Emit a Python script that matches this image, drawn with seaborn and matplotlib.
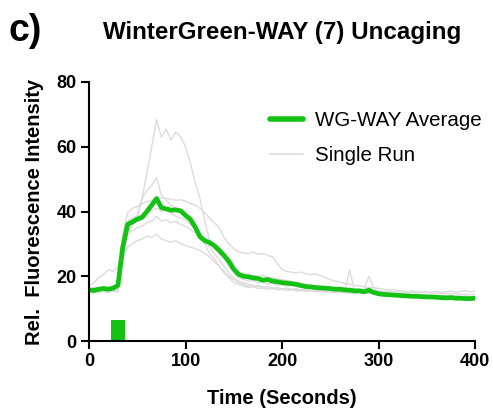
import numpy as np
import pandas as pd
import matplotlib
matplotlib.use("Agg")
import matplotlib.pyplot as plt
import seaborn as sns
from matplotlib.lines import Line2D

# ---- data ----
time_s = list(range(0, 405, 5))

wg_average = [
    15.8, 15.6, 16.0, 16.2, 16.0, 16.3, 17.2, 29.0, 36.0, 36.8,
    37.6, 38.2, 40.0, 42.0, 44.0, 41.2, 40.8, 40.4, 40.5, 40.2,
    38.8, 37.6, 35.2, 32.2, 31.0, 30.4, 29.4, 28.0, 26.4, 24.6,
    22.2, 20.6, 20.0, 19.8, 19.5, 19.3, 18.8, 19.0, 18.5, 18.3,
    18.0, 17.9, 17.7, 17.5, 17.1, 16.8, 16.7, 16.5, 16.4, 16.3,
    16.2, 16.0, 16.0, 15.8, 15.7, 15.5, 15.5, 15.2, 15.7, 15.0,
    14.6, 14.4, 14.3, 14.2, 14.1, 14.0, 13.9, 13.8, 13.8, 13.7,
    13.6, 13.6, 13.5, 13.4, 13.3, 13.4, 13.2, 13.2, 13.1, 13.1,
    13.2,
]

run_1 = [
    15.5, 16.0, 15.2, 16.3, 15.8, 16.5, 16.0, 27.0, 34.0, 36.5,
    39.0, 44.0, 52.0, 60.0, 68.5, 63.0, 65.5, 62.0, 64.5, 63.0,
    60.0, 55.0, 49.0, 44.0, 37.0, 31.0, 28.5, 27.0, 25.5, 23.0,
    21.0, 19.5, 19.0, 18.5, 18.8, 18.0, 18.2, 17.6, 17.8, 17.2,
    17.5, 17.0, 17.2, 16.8, 16.5, 16.6, 16.2, 16.0, 16.3, 15.8,
    15.9, 15.6, 15.8, 15.4, 15.5, 15.2, 15.3, 15.0, 15.2, 14.8,
    14.6, 14.7, 14.3, 14.5, 14.2, 14.3, 14.0, 14.2, 13.9, 14.0,
    13.8, 13.9, 13.6, 13.8, 13.5, 13.6, 13.4, 13.5, 13.3, 13.4,
    13.3,
]
run_2 = [
    15.0, 14.8, 15.5, 15.2, 15.0, 15.6, 15.3, 26.0, 33.0, 35.5,
    38.0, 44.0, 46.5, 48.0, 50.5, 45.0, 43.5, 42.0, 41.0, 40.5,
    39.0, 38.0, 36.0, 33.0, 30.0, 27.0, 25.5, 23.0, 21.5, 20.0,
    19.0, 18.0, 17.5, 17.0, 17.2, 16.8, 16.5, 16.8, 16.2, 16.4,
    16.0, 16.2, 15.8, 16.0, 15.6, 15.8, 15.5, 15.6, 15.3, 15.5,
    15.2, 15.3, 15.0, 15.2, 14.9, 15.0, 14.8, 14.9, 14.6, 14.7,
    14.4, 14.5, 14.2, 14.3, 14.0, 14.1, 13.9, 14.0, 13.7, 13.8,
    13.6, 13.7, 13.4, 13.5, 13.3, 13.4, 13.2, 13.3, 13.1, 13.2,
    13.0,
]
run_3 = [
    16.0, 16.5, 16.2, 16.8, 16.4, 17.0, 16.6, 33.0, 39.5, 41.0,
    41.5, 42.5, 43.0, 43.5, 44.0, 44.2, 44.0, 43.8, 43.5, 43.6,
    43.2, 42.5, 42.0, 41.0, 39.5, 38.0, 36.5, 35.0, 32.0, 30.0,
    28.5, 27.5, 27.2, 27.0, 27.5, 26.8, 27.0, 26.5, 26.0, 24.0,
    22.0, 21.5, 21.2, 21.0, 21.3, 20.8, 20.5, 20.7, 20.2, 19.5,
    19.0, 18.5, 18.2, 17.8, 17.5, 17.2, 17.0, 16.8, 16.5, 16.6,
    16.2, 16.0, 15.8, 15.9, 15.6, 15.5, 15.3, 15.4, 15.2, 15.0,
    15.1, 14.8, 14.9, 14.6, 14.7, 14.5, 14.6, 14.4, 14.5, 14.3,
    14.4,
]
run_4 = [
    15.2, 15.5, 15.0, 15.8, 15.4, 15.7, 15.5, 28.0, 33.0, 34.0,
    35.0, 35.5, 36.5, 37.0, 38.5, 37.0, 37.5, 36.5, 37.0, 36.0,
    35.5, 34.5, 33.5, 32.5, 31.0, 29.0, 27.0, 25.0, 23.0, 21.0,
    19.5, 18.5, 18.0, 17.6, 17.0, 17.2, 16.6, 16.8, 16.4, 16.5,
    16.1, 16.3, 16.0, 16.1, 15.8, 15.9, 15.6, 15.7, 15.4, 15.5,
    15.2, 15.3, 15.1, 15.2, 22.0, 15.5, 15.0, 14.9, 15.1, 14.7,
    14.8, 14.5, 14.6, 14.3, 14.4, 14.1, 14.2, 13.9, 14.0, 13.8,
    13.9, 13.6, 13.7, 13.5, 13.6, 13.4, 13.5, 13.3, 13.4, 13.2,
    13.3,
]
run_5 = [
    15.0, 15.3, 14.8, 15.5, 15.1, 15.4, 15.2, 25.0, 29.0, 30.0,
    31.0, 31.5, 32.5, 32.0, 33.0, 31.5, 31.0, 30.5, 31.0, 30.0,
    29.5, 29.0, 28.5, 28.0, 27.0, 26.0, 24.5, 23.0, 21.0, 19.5,
    18.0, 17.5, 17.0, 16.5, 16.8, 16.2, 16.4, 16.0, 16.2, 15.8,
    16.0, 15.6, 15.8, 15.5, 15.6, 15.3, 15.5, 15.2, 15.3, 15.0,
    15.2, 14.9, 15.0, 14.8, 14.9, 14.7, 15.0, 16.0, 20.0, 16.5,
    15.0, 14.8, 14.9, 14.6, 14.7, 14.5, 14.6, 14.3, 14.5, 14.2,
    14.3, 14.1, 14.2, 14.0, 14.1, 13.9, 14.0, 13.8, 13.9, 13.7,
    13.8,
]
run_6 = [
    17.0, 18.0, 19.5, 20.5, 22.0, 21.5, 23.0, 32.0, 37.0, 38.0,
    38.5, 39.0, 39.5, 40.5, 41.0, 40.0, 40.5, 39.5, 38.5, 38.0,
    37.5, 36.0, 34.5, 33.0, 31.5, 30.5, 29.5, 28.0, 26.0, 24.0,
    22.5, 21.0, 20.5, 20.8, 20.2, 20.0, 20.4, 19.8, 19.5, 19.2,
    19.0, 18.6, 18.4, 18.0, 17.8, 17.5, 17.2, 17.0, 16.8, 16.6,
    16.5, 16.3, 16.2, 16.0, 16.0, 15.8, 15.7, 15.5, 15.6, 15.4,
    15.5, 15.3, 15.4, 15.2, 15.3, 15.1, 15.2, 15.0, 15.1, 15.2,
    15.0, 15.1, 15.3, 15.0, 15.2, 15.4, 15.1, 15.3, 15.5, 15.2,
    15.4,
]

single_runs = {"1": run_1, "2": run_2, "3": run_3, "4": run_4, "5": run_5, "6": run_6}

uncage_start = 23
uncage_end = 37
uncage_height = 6.5

series_labels = ["WG-WAY Average", "Single Run"]
x_ticks = [0, 100, 200, 300, 400]
y_ticks = [0, 20, 40, 60, 80]

GREEN = "#14c214"
GRAY = "#dcdcdc"

# ---- build tables ----
rows = []
for name, vals in single_runs.items():
    for t, v in zip(time_s, vals):
        rows.append({"time": t, "value": v, "run": name})
single_df = pd.DataFrame(rows)
avg_df = pd.DataFrame({"time": time_s, "value": wg_average})

sns.set_theme(style="ticks")
plt.rcParams["font.family"] = ["Liberation Sans", "DejaVu Sans"]
plt.rcParams["text.color"] = "black"
plt.rcParams["axes.labelcolor"] = "black"

fig = plt.figure(figsize=(4.93, 4.09), dpi=100)
ax = fig.add_axes([89 / 493, 1 - 341 / 409, 386 / 493, 259 / 409])

sns.lineplot(data=single_df, x="time", y="value", units="run", estimator=None,
             color=GRAY, linewidth=1.0, ax=ax, legend=False)
sns.lineplot(data=avg_df, x="time", y="value", color=GREEN, linewidth=3.4,
             ax=ax, legend=False)

ax.bar([(uncage_start + uncage_end) / 2], [uncage_height],
       width=uncage_end - uncage_start, color=GREEN, linewidth=0)

ax.set_xlim(0, 400)
ax.set_ylim(0, 80)
ax.set_xticks(x_ticks)
ax.set_yticks(y_ticks)
for lab in ax.get_xticklabels() + ax.get_yticklabels():
    lab.set_fontweight("bold")
ax.tick_params(axis="both", length=6, width=1.5, labelsize=13, color="black",
               labelcolor="black", pad=3)
for s in ["top", "right"]:
    ax.spines[s].set_visible(False)
for s in ["left", "bottom"]:
    ax.spines[s].set_linewidth(1.5)
    ax.spines[s].set_color("black")

ax.set_xlabel("Time (Seconds)", fontsize=14.5, fontweight="bold", color="black")
ax.set_ylabel("Rel.  Fluorescence Intensity", fontsize=14.5, fontweight="bold",
              color="black")
ax.xaxis.set_label_coords(0.5, (341 - 398) / 259)
ax.yaxis.set_label_coords((35 - 89) / 386, 0.5)
ax.xaxis.label.set_va("center")
ax.yaxis.label.set_va("center")

handles = [Line2D([], [], color=GREEN, linewidth=4),
           Line2D([], [], color=GRAY, linewidth=1.2)]
leg = ax.legend(handles, series_labels, loc="upper left",
                bbox_to_anchor=((270 - 89) / 386, (341 - 111) / 259),
                frameon=False, fontsize=14.8, handlelength=1.6, handletextpad=0.6,
                labelspacing=0.78, borderpad=0, borderaxespad=0)
for t in leg.get_texts():
    t.set_color("black")

fig.text((89 + 475) / 2 / 493, 1 - 32 / 409, "WinterGreen-WAY (7) Uncaging",
         ha="center", va="center", fontsize=17.4, fontweight="bold", color="black")
fig.text(9 / 493, 1 - 31 / 409, "c)", ha="left", va="center",
         fontsize=27, fontweight="bold", color="black")

fig.savefig("out.png", dpi=100)
